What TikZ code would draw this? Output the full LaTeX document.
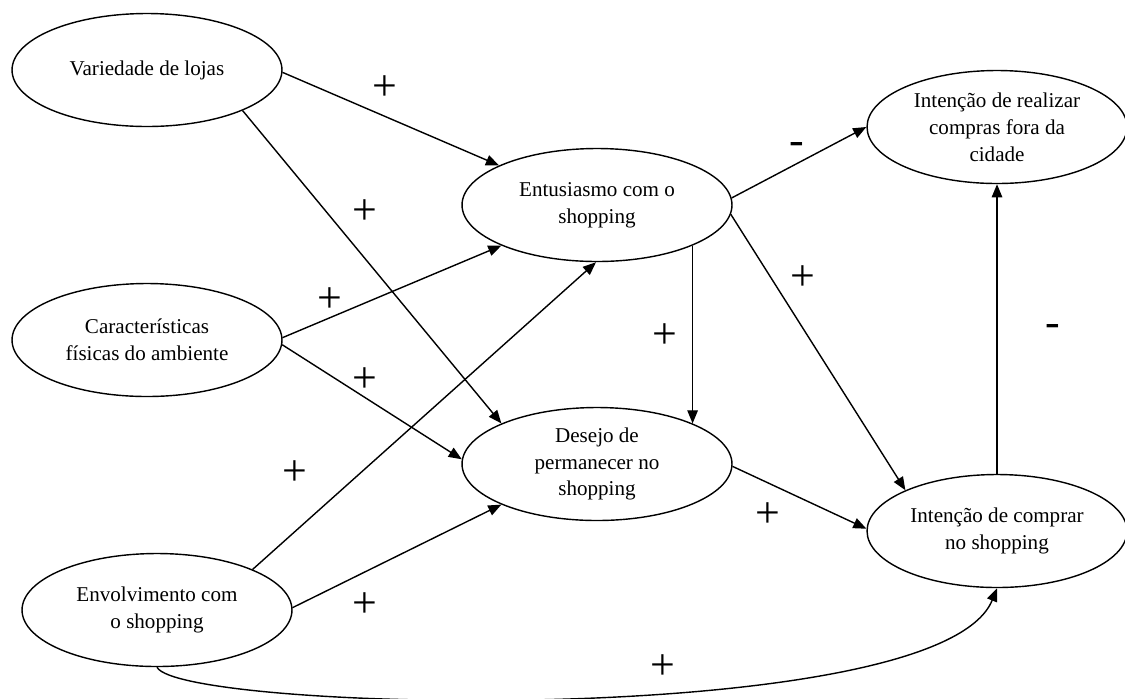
\documentclass[tikz,border=0pt]{standalone}
\usepackage{fontspec}
\setmainfont{Liberation Serif}
\usetikzlibrary{shapes.geometric,arrows.meta}

\begin{document}
\begin{tikzpicture}[x=0.02cm,y=0.02cm,
  construct/.style={ellipse,draw,line width=0.8pt,minimum width=5.4cm,minimum height=2.26cm,inner sep=1pt,align=center,font=\fontsize{12}{15.3}\selectfont},
  outcome/.style={construct,minimum width=5.2cm},
  link/.style={line width=0.8pt,-{Triangle[length=7.5pt,width=6pt]}},
  sign/.style={font=\fontsize{25}{25}\selectfont,inner sep=0pt}]
\useasboundingbox (0,0) rectangle (1125,-698);

\node[construct] (var) at (147,-70) {Variedade de lojas};
\node[construct] (car) at (147,-340) {Caracter\'isticas\\f\'isicas do ambiente};
\node[construct] (env) at (157,-610) {Envolvimento com\\o shopping};
\node[construct] (ent) at (597,-205) {Entusiasmo com o\\shopping};
\node[construct] (des) at (597,-464) {Desejo de\\permanecer no\\shopping};
\node[outcome] (real) at (997,-127) {Inten\c{c}\~ao de realizar\\compras fora da\\cidade};
\node[outcome] (comp) at (997,-531) {Inten\c{c}\~ao de comprar\\no shopping};

\draw[link] (var.-1) -- (ent.158);
\draw[link] (var.-23) -- (des.157);
\draw[link] (car.1) -- (ent.-157);
\draw[link] (car.-2) -- (des.178);
\draw[link] (env.23) -- (ent.-91);
\draw[link] (env.1) -- (des.-157);
\draw[link] (ent.3) -- (real.180);
\draw[link] (ent.-4) -- (comp.156);
\draw[link] (ent.-23) -- (des.23);
\draw[link] (des.-1) -- (comp.179);
\draw[link] (comp.north) -- (real.south);
\draw[link] (env.south) .. controls (180,-712) and (940,-730) .. (comp.south);

\foreach \px/\py [count=\i] in {385/88,365/212,330/300,365/380,295/473,365/605,665/336,803/278,768/515,663/667}
  \node[sign] (plus\i) at (\px,-\py) {+};
\node[sign] (minusA) at (797,-148) {-};
\node[sign] (minusB) at (1053,-330) {-};
\end{tikzpicture}
\end{document}
